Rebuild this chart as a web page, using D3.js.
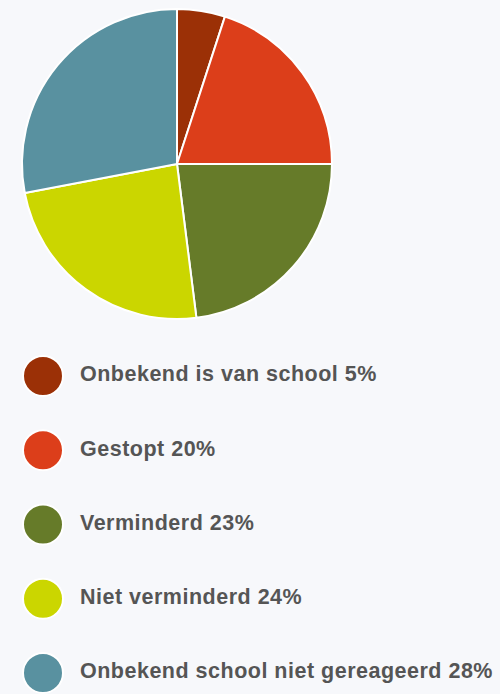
<!DOCTYPE html>
<html>
<head>
<meta charset="UTF-8">
<script src="https://d3js.org/d3.v7.min.js"></script>
<style>
  body { margin: 0; background: #f7f8fb; }
  svg { display: block; }
  .legend text {
    font-family: 'Liberation Sans', Arial, Helvetica, sans-serif;
    font-weight: bold;
    font-size: 21.5px;
    letter-spacing: 0.5px;
    fill: #555555;
  }
</style>
</head>
<body>
<svg id="chart"></svg>
<script>
  const labels = ['Onbekend is van school', 'Gestopt', 'Verminderd', 'Niet verminderd', 'Onbekend school niet gereageerd'];
  const values = [5, 20, 23, 24, 28];
  const colors = ['#9b3006', '#dc3e1a', '#667b29', '#cbd600', '#5991a0'];

  const width = 500, height = 694;
  const svg = d3.select('#chart').attr('width', width).attr('height', height);

  const cx = 177, cy = 164, radius = 155;

  const pie = d3.pie().sort(null).value(d => d.value);
  const arc = d3.arc().innerRadius(0).outerRadius(radius);
  const data = labels.map((l, i) => ({label: l, value: values[i], color: colors[i]}));

  svg.append('g')
    .attr('transform', `translate(${cx},${cy})`)
    .selectAll('path')
    .data(pie(data))
    .join('path')
    .attr('d', arc)
    .attr('fill', d => d.data.color)
    .attr('stroke', '#ffffff')
    .attr('stroke-width', 2)
    .attr('stroke-linejoin', 'round');

  const y = d3.scalePoint().domain(labels).range([376, 673]);

  const legend = svg.append('g').attr('class', 'legend')
    .selectAll('g')
    .data(data)
    .join('g')
    .attr('transform', d => `translate(0,${y(d.label)})`);

  legend.append('circle')
    .attr('cx', 43)
    .attr('r', 20)
    .attr('fill', d => d.color)
    .attr('stroke', '#ffffff')
    .attr('stroke-width', 2);

  legend.append('text')
    .attr('x', 80)
    .attr('dy', '0.25em')
    .text(d => `${d.label} ${d.value}%`);
</script>
</body>
</html>
